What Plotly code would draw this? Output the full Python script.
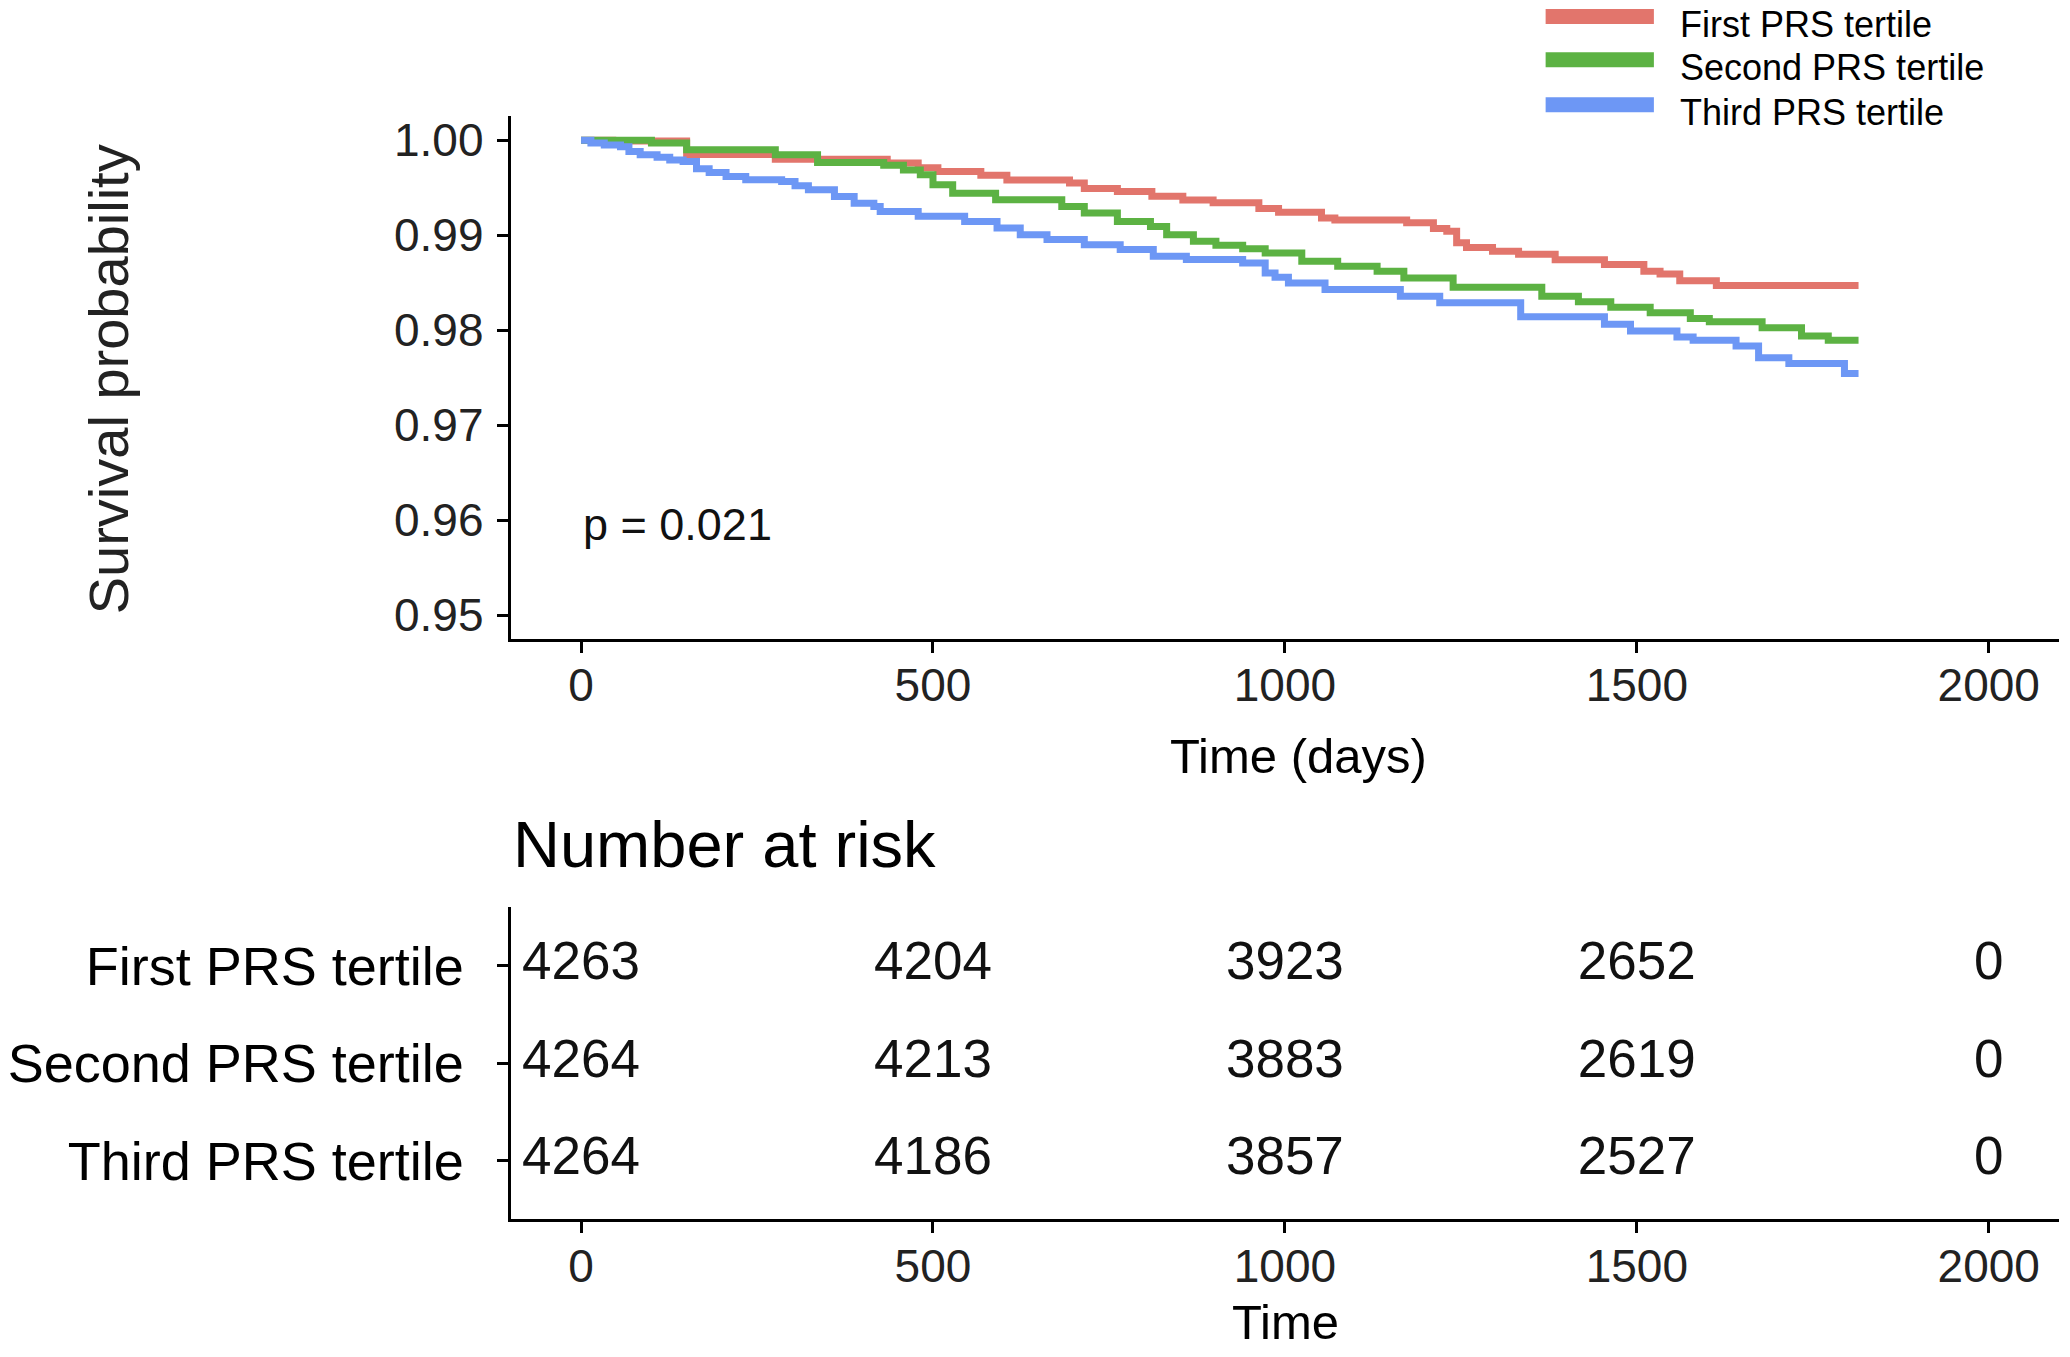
import plotly.graph_objects as go

# Kaplan-Meier step data (days, survival)
days_first = [0, 45, 150, 276, 435, 479, 507, 568, 605, 694, 715, 762, 811, 855, 898, 963, 991,
              1052, 1071, 1173, 1211, 1230, 1244, 1258, 1295, 1332, 1384, 1454, 1510, 1533, 1561,
              1613, 1815]
surv_first = [1.0, 0.9999, 0.9985, 0.9980, 0.9976, 0.9971, 0.9967, 0.9963, 0.9958, 0.9955, 0.9949,
              0.9946, 0.9941, 0.9937, 0.9934, 0.9928, 0.9924, 0.9918, 0.9916, 0.9913, 0.9907,
              0.9904, 0.9892, 0.9887, 0.9883, 0.9880, 0.9874, 0.9869, 0.9862, 0.9859, 0.9852,
              0.9847, 0.9847]

days_second = [0, 100, 150, 276, 336, 430, 458, 482, 500, 528, 589, 683, 715, 762, 809, 832, 870,
               902, 940, 972, 1024, 1075, 1131, 1169, 1239, 1365, 1417, 1463, 1519, 1576, 1603,
               1678, 1734, 1772, 1815]
surv_second = [1.0, 0.9997, 0.9990, 0.99845, 0.99764, 0.99735, 0.99687, 0.99635, 0.9953, 0.99442,
               0.99372, 0.99302, 0.99232, 0.99145, 0.99092, 0.99005, 0.98935, 0.98893, 0.98858,
               0.98812, 0.98725, 0.98673, 0.9862, 0.9855, 0.98452, 0.98358, 0.98298, 0.98242,
               0.98183, 0.98124, 0.98088, 0.98025, 0.97938, 0.97893, 0.97893]

days_third = [0, 14, 33, 56, 68, 84, 108, 126, 145, 164, 182, 206, 234, 285, 304, 323, 360, 388,
              416, 425, 479, 545, 591, 624, 662, 715, 766, 813, 860, 940, 972, 986, 1005, 1057,
              1164, 1220, 1335, 1454, 1491, 1557, 1580, 1641, 1673, 1716, 1795, 1815]
surv_third = [1.0, 0.9997, 0.9995, 0.9993, 0.9988, 0.99845, 0.9982, 0.9979, 0.99774, 0.9970,
              0.99659, 0.99617, 0.99582, 0.99565, 0.9952, 0.99477, 0.99407, 0.99337, 0.99302,
              0.9925, 0.9920, 0.99145, 0.99075, 0.99005, 0.98953, 0.989, 0.98848, 0.98778,
              0.98743, 0.98707, 0.98602, 0.98557, 0.98497, 0.98428, 0.98358, 0.98288, 0.9814,
              0.98061, 0.9799, 0.97927, 0.97893, 0.97833, 0.9771, 0.97648, 0.97543, 0.97543]

groups = ["First PRS tertile", "Second PRS tertile", "Third PRS tertile"]
colors = ["#E2756C", "#5CB243", "#6D97F5"]

# number at risk table
risk_times = [0, 500, 1000, 1500, 2000]
risk_first = [4263, 4204, 3923, 2652, 0]
risk_second = [4264, 4213, 3883, 2619, 0]
risk_third = [4264, 4186, 3857, 2527, 0]

x_ticks = [0, 500, 1000, 1500, 2000]
y_ticks = [0.95, 0.96, 0.97, 0.98, 0.99, 1.00]
p_text = "p = 0.021"

W, H = 2070, 1357
OFF = 8  # page body margin
FONT = "Liberation Sans, Arial, sans-serif"


def px(x):
    return (x - OFF) / W


def py(y):
    return 1 - (y - OFF) / H


fig = go.Figure()

curves = [(days_first, surv_first), (days_second, surv_second), (days_third, surv_third)]
for (d, s), name, col in zip(curves, groups, colors):
    fig.add_trace(go.Scatter(x=d, y=s, mode="lines", name=name, line=dict(color=col, width=7, shape="hv"),
                             xaxis="x", yaxis="y", showlegend=False))

# risk table as text marks
rows = [risk_first, risk_second, risk_third]
row_pos = [3, 2, 1]
for vals, pos in zip(rows, row_pos):
    fig.add_trace(go.Scatter(x=risk_times, y=[pos] * len(risk_times), mode="text",
                             text=[str(v) for v in vals],
                             textfont=dict(family=FONT, size=53, color="#111"),
                             xaxis="x2", yaxis="y2", showlegend=False, hoverinfo="skip"))

axis_common = dict(showline=True, linecolor="black", linewidth=3, ticks="outside", ticklen=11,
                   tickwidth=3, tickcolor="black", showgrid=False, zeroline=False,
                   tickfont=dict(family=FONT, size=46, color="#222"))

xdom = [px(500), px(2059)]
fig.update_layout(
    width=W, height=H,
    margin=dict(l=0, r=0, t=0, b=0),
    paper_bgcolor="white", plot_bgcolor="white",
    font=dict(family=FONT, color="black"),
    xaxis=dict(domain=xdom, range=[-100, 2100], tickvals=x_ticks, anchor="y",
               ticklabelstandoff=-7, **axis_common),
    yaxis=dict(domain=[py(638.8), py(114.7)], range=[0.9475, 1.0025], tickvals=y_ticks,
               tickformat=".2f", anchor="x", ticklabelstandoff=4, **axis_common),
    xaxis2=dict(domain=xdom, range=[-100, 2100], tickvals=x_ticks, anchor="y2",
                ticklabelstandoff=-7, **axis_common),
    yaxis2=dict(domain=[py(1221), py(908)], range=[0.4, 3.6], tickvals=row_pos, ticktext=groups,
                anchor="x2", ticklabelstandoff=22,
                **{**axis_common, "tickfont": dict(family=FONT, size=54, color="black")}),
)

ann = [
    dict(x=0, y=0.9595, xref="x", yref="y", text=p_text, showarrow=False, xanchor="left",
         yanchor="middle", font=dict(size=45, color="#111")),
    dict(x=px(1293), y=py(756), xref="paper", yref="paper", text="Time (days)", showarrow=False,
         xanchor="center", yanchor="middle", font=dict(size=49)),
    dict(x=px(96), y=py(378), xref="paper", yref="paper", text="Survival probability", showarrow=False,
         textangle=-90, xanchor="center", yanchor="middle", font=dict(size=56, color="#222")),
    dict(x=px(500), y=py(845), xref="paper", yref="paper", text="Number at risk", showarrow=False,
         xanchor="left", yanchor="middle", font=dict(size=65)),
    dict(x=px(1280), y=py(1324), xref="paper", yref="paper", text="Time", showarrow=False,
         xanchor="center", yanchor="middle", font=dict(size=49)),
]

# legend drawn by hand at the top right
leg_y = [14.5, 58, 103]
shapes = []
for name, col, ly in zip(groups, colors, leg_y):
    shapes.append(dict(type="line", xref="paper", yref="paper", x0=px(1542), x1=px(1651),
                       y0=py(ly), y1=py(ly), line=dict(color=col, width=15)))
    ann.append(dict(x=px(1675), y=py(ly + 8), xref="paper", yref="paper", text=name, showarrow=False,
                    xanchor="left", yanchor="middle", font=dict(size=36)))

fig.update_layout(annotations=ann, shapes=shapes)

fig.write_html("out.html")
